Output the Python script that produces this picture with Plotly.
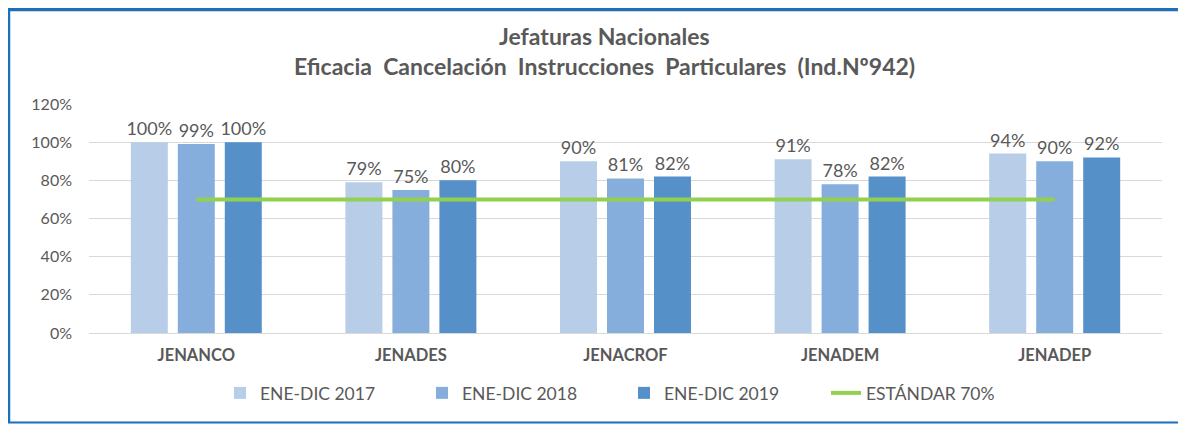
import plotly.graph_objects as go

categories = ["JENANCO", "JENADES", "JENACROF", "JENADEM", "JENADEP"]
series_names = ["ENE-DIC 2017", "ENE-DIC 2018", "ENE-DIC 2019"]
v2017 = [1.00, 0.79, 0.90, 0.91, 0.94]
v2018 = [0.99, 0.75, 0.81, 0.78, 0.90]
v2019 = [1.00, 0.80, 0.82, 0.82, 0.92]
standard_name = "ESTÁNDAR 70%"
standard = [0.70, 0.70, 0.70, 0.70, 0.70]
y_ticks = [0, 0.2, 0.4, 0.6, 0.8, 1.0, 1.2]
title_1 = "Jefaturas Nacionales"
title_2 = "Eficacia  Cancelación  Instrucciones  Particulares  (Ind.Nº942)"

colors = ["#B7CDE8", "#86AEDC", "#5591C8"]
FONT = "Lato"
GRAY = "#595959"

fig = go.Figure()
for name, vals, col in zip(series_names, [v2017, v2018, v2019], colors):
    fig.add_trace(go.Bar(
        x=categories, y=vals, name=name,
        marker=dict(color=col, line=dict(width=0)),
        text=[f"{v*100:.0f}%" for v in vals],
        textposition="outside",
        constraintext="none",
        textfont=dict(family=FONT, size=18, color=GRAY),
        cliponaxis=False,
    ))

fig.add_trace(go.Scatter(
    x=categories, y=standard, name=standard_name, mode="lines",
    line=dict(color="#92D050", width=4),
))

# page offset of the figure (body margin)
OFF = 8
W, H = 1178, 416
# plot area in page pixels: x 89..1162, y 104..333
L = 89 - OFF
T = 104 - OFF
R = W - (1162 - OFF)
B = H - (333 - OFF)
pw, ph = W - L - R, H - T - B

def px(x_page):
    return (x_page - OFF - L) / pw

def py(y_page):
    return (H - B - (y_page - OFF)) / ph

BLUE = "#1A6FBF"
frame = [
    dict(x0=px(8), x1=px(1184), y0=py(9.5), y1=py(9.5), color=BLUE, width=3),
    dict(x0=px(8), x1=px(1184), y0=py(11.5), y1=py(11.5), color="#D6D6D6", width=1),
    dict(x0=px(9), x1=px(9), y0=py(9), y1=py(423), color=BLUE, width=2.5),
    dict(x0=px(8), x1=px(1184), y0=py(422.5), y1=py(422.5), color=BLUE, width=2),
    dict(x0=px(1183.5), x1=px(1183.5), y0=py(11), y1=py(422), color="#D6D6D6", width=2),
]
shapes = [dict(type="line", xref="paper", yref="paper", x0=f["x0"], x1=f["x1"],
               y0=f["y0"], y1=f["y1"], line=dict(color=f["color"], width=f["width"]),
               layer="below") for f in frame]

fig.update_layout(
    width=W, height=H,
    margin=dict(l=L, r=R, t=T, b=B, autoexpand=False),
    paper_bgcolor="white", plot_bgcolor="white",
    barmode="group", bargap=0.343, bargroupgap=0.213,
    font=dict(family=FONT, color=GRAY),
    xaxis=dict(
        showgrid=False, showline=False, ticks="", automargin=False,
        ticklabelstandoff=10,
        tickfont=dict(family=FONT, size=16.5, color=GRAY, weight="bold"),
    ),
    yaxis=dict(
        range=[0, 1.2], tickvals=y_ticks, tickformat=".0%", automargin=False,
        showgrid=True, gridcolor="#D9D9D9", gridwidth=1,
        zeroline=True, zerolinecolor="#D9D9D9", zerolinewidth=1,
        showline=False, ticks="", ticklen=0, ticklabelstandoff=16,
        tickfont=dict(family=FONT, size=16, color=GRAY),
    ),
    legend=dict(
        orientation="h", x=px(220), xanchor="left", y=py(393), yanchor="middle",
        font=dict(family=FONT, size=17.5, color=GRAY),
        entrywidth=157, entrywidthmode="pixels",
        bgcolor="rgba(0,0,0,0)",
    ),
    annotations=[
        dict(text=f"<b>{title_1}</b>", xref="paper", yref="paper",
             x=px(604), y=py(36.5), xanchor="center", yanchor="middle", showarrow=False,
             font=dict(family=FONT, size=23, color=GRAY)),
        dict(text=f"<b>{title_2}</b>", xref="paper", yref="paper",
             x=px(604), y=py(66), xanchor="center", yanchor="middle", showarrow=False,
             font=dict(family=FONT, size=23, color=GRAY)),
    ],
    shapes=shapes,
)

fig.write_html("out.html")
